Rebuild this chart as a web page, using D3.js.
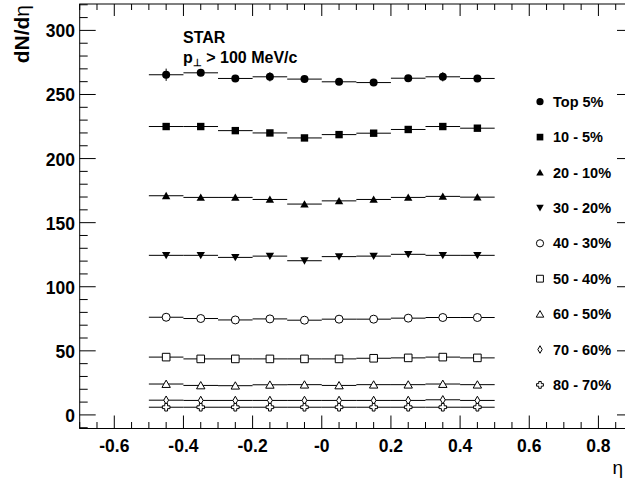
<!DOCTYPE html>
<html><head><meta charset="utf-8">
<script src="https://cdn.jsdelivr.net/npm/d3@7"></script>
<style>
html,body{margin:0;padding:0;background:#fff;}
svg{display:block;}
text{font-family:"Liberation Sans",Arial,Helvetica,sans-serif;font-weight:bold;fill:#000;}
</style></head>
<body>
<svg id="chart" width="625" height="483"></svg>
<script>
// ---------- data ----------
const eta = [-0.45, -0.35, -0.25, -0.15, -0.05, 0.05, 0.15, 0.25, 0.35, 0.45];
const binHalfWidth = 0.05;
const seriesNames = ["Top 5%", "10 - 5%", "20 - 10%", "30 - 20%", "40 - 30%", "50 - 40%", "60 - 50%", "70 - 60%", "80 - 70%"];
const top5   = [265.4, 266.9, 262.5, 263.8, 262.0, 259.9, 259.3, 262.7, 263.8, 262.5];
const c10_5  = [225.0, 225.0, 221.8, 220.0, 216.1, 218.7, 219.8, 222.7, 225.0, 223.7];
const c20_10 = [171.0, 169.7, 169.7, 168.1, 164.5, 167.0, 168.1, 169.7, 170.5, 169.9];
const c30_20 = [124.5, 124.5, 122.9, 123.9, 120.3, 123.5, 123.9, 125.3, 124.5, 124.5];
const c40_30 = [76.2, 75.2, 74.1, 74.9, 73.9, 74.7, 74.7, 75.5, 76.0, 76.0];
const c50_40 = [45.1, 43.7, 43.7, 43.7, 43.7, 43.7, 44.2, 44.5, 45.1, 44.5];
const c60_50 = [24.1, 23.0, 22.8, 23.5, 23.6, 23.0, 23.6, 23.6, 24.1, 23.6];
const c70_60 = [11.5, 11.3, 11.3, 11.3, 11.3, 11.3, 11.3, 11.3, 11.8, 11.3];
const c80_70 = [6.0, 6.0, 6.0, 6.0, 6.0, 6.0, 6.0, 6.0, 6.0, 6.0];
const top5Err = [4.8, 2.5, 2.0, 3.6, 2.0, 2.0, 2.0, 2.0, 3.6, 2.0];
const seriesValues = [top5, c10_5, c20_10, c30_20, c40_30, c50_40, c60_50, c70_60, c80_70];
const markerTypes = ["circle", "square", "triUp", "triDown", "oCircle", "oSquare", "oTriUp", "oDiamond", "oCross"];
const xTickValues = [-0.6, -0.4, -0.2, 0, 0.2, 0.4, 0.6, 0.8];
const xTickLabels = ["-0.6", "-0.4", "-0.2", "-0", "0.2", "0.4", "0.6", "0.8"];
const yTickValues = [0, 50, 100, 150, 200, 250, 300];
const yTickLabels = ["0", "50", "100", "150", "200", "250", "300"];

// ---------- layout ----------
const svg = d3.select("#chart");
const L = 79.7, R = 633, T = 4, B = 428.5;
const x = d3.scaleLinear().domain([-0.7, 0.9]).range([L, R]);
const y = d3.scaleLinear().domain([-10.6, 320.6]).range([B, T]);

// marker path generators (centered at 0,0)
function markerPath(type) {
  const p = d3.path();
  switch (type) {
    case "circle": case "oCircle": p.arc(0, 0, 4, 0, 2 * Math.PI); break;
    case "square": p.rect(-3.7, -3.7, 7.4, 7.4); break;
    case "oSquare": p.rect(-3.8, -3.8, 7.6, 7.6); break;
    case "triUp": case "oTriUp": p.moveTo(-4.2, 3.4); p.lineTo(4.2, 3.4); p.lineTo(0, -3.9); p.closePath(); break;
    case "triDown": p.moveTo(-4.2, -3.4); p.lineTo(4.2, -3.4); p.lineTo(0, 3.9); p.closePath(); break;
    case "oDiamond": p.moveTo(0, -4.2); p.lineTo(2.4, 0); p.lineTo(0, 4.2); p.lineTo(-2.4, 0); p.closePath(); break;
    case "oCross": {
      const a = 1.4, b = 3.8;
      p.moveTo(-a, -b); p.lineTo(a, -b); p.lineTo(a, -a); p.lineTo(b, -a); p.lineTo(b, a); p.lineTo(a, a);
      p.lineTo(a, b); p.lineTo(-a, b); p.lineTo(-a, a); p.lineTo(-b, a); p.lineTo(-b, -a); p.lineTo(-a, -a); p.closePath();
      break;
    }
  }
  return p.toString();
}
function isOpen(type) { return type.startsWith("o"); }

// ---------- frame & axes ----------
const axes = svg.append("g");
axes.append("rect").attr("x", L).attr("y", T).attr("width", R - L).attr("height", B - T)
  .attr("fill", "none").attr("stroke", "#000").attr("stroke-width", 1);

const xMinor = d3.range(-0.7, 0.9001, 0.05).map(v => +v.toFixed(3));
const yMinor = d3.range(-10, 320.001, 10);

// bottom & top ticks
xMinor.forEach(v => {
  const major = xTickValues.some(t => Math.abs(t - v) < 1e-6);
  const len = major ? 13 : 6.5;
  axes.append("line").attr("x1", x(v)).attr("x2", x(v)).attr("y1", B).attr("y2", B - len).attr("stroke", "#000");
  axes.append("line").attr("x1", x(v)).attr("x2", x(v)).attr("y1", T).attr("y2", T + (major ? 12 : 6)).attr("stroke", "#000");
});
// left & right ticks
yMinor.forEach(v => {
  const major = yTickValues.includes(v);
  const len = major ? 16 : 8;
  axes.append("line").attr("x1", L).attr("x2", L + len).attr("y1", y(v)).attr("y2", y(v)).attr("stroke", "#000");
  axes.append("line").attr("x1", R).attr("x2", R - len).attr("y1", y(v)).attr("y2", y(v)).attr("stroke", "#000");
});
// tick labels
xTickValues.forEach((v, i) => {
  axes.append("text").attr("x", x(v)).attr("y", 452).attr("text-anchor", "middle")
    .style("font-size", "17.5px").text(xTickLabels[i]);
});
yTickValues.forEach((v, i) => {
  axes.append("text").attr("x", 75).attr("y", y(v) + 7).attr("text-anchor", "end")
    .style("font-size", "17.5px").text(yTickLabels[i]);
});
// axis titles
const yt = axes.append("text").attr("transform", "translate(29,5) rotate(-90)")
  .attr("text-anchor", "end").style("font-size", "21px");
yt.append("tspan").text("dN/d");
yt.append("tspan").style("font-weight", "normal").text("η");
axes.append("text").attr("x", 623).attr("y", 474).attr("text-anchor", "end")
  .style("font-size", "19px").style("font-weight", "normal").text("η");

// annotation
svg.append("text").attr("x", 183).attr("y", 43).style("font-size", "16px").text("STAR");
const pt = svg.append("text").attr("x", 183).attr("y", 63).style("font-size", "16px");
pt.append("tspan").text("p");
pt.append("tspan").attr("dy", 3).style("font-size", "10px").text("⊥");
pt.append("tspan").attr("dy", -3).text(" > 100 MeV/c");

// ---------- data ----------
const plot = svg.append("g");
seriesValues.forEach((vals, si) => {
  const g = plot.append("g");
  const data = eta.map((e, i) => ({ e, v: vals[i], err: si === 0 ? top5Err[i] : 0 }));
  // horizontal bin segments
  g.selectAll("line.seg").data(data).enter().append("line")
    .attr("x1", d => x(d.e - binHalfWidth)).attr("x2", d => x(d.e + binHalfWidth))
    .attr("y1", d => y(d.v)).attr("y2", d => y(d.v))
    .attr("stroke", "#000").attr("stroke-width", 1);
  // vertical error bars
  g.selectAll("line.err").data(data.filter(d => d.err > 0)).enter().append("line")
    .attr("x1", d => x(d.e)).attr("x2", d => x(d.e))
    .attr("y1", d => y(d.v - d.err)).attr("y2", d => y(d.v + d.err))
    .attr("stroke", "#000").attr("stroke-width", 1);
  const type = markerTypes[si];
  g.selectAll("path").data(data).enter().append("path")
    .attr("d", markerPath(type))
    .attr("transform", d => `translate(${x(d.e)},${y(d.v)})`)
    .attr("fill", isOpen(type) ? "#fff" : "#000")
    .attr("stroke", "#000").attr("stroke-width", isOpen(type) ? 1 : 0);
});

// ---------- legend ----------
const legendY0 = 101.7, legendDy = 35.4;
const legend = svg.append("g");
seriesNames.forEach((name, i) => {
  const type = markerTypes[i];
  const cy = legendY0 + i * legendDy;
  legend.append("path").attr("d", markerPath(type)).attr("transform", `translate(540,${cy}) scale(0.9)`)
    .attr("fill", isOpen(type) ? "#fff" : "#000").attr("stroke", "#000").attr("stroke-width", isOpen(type) ? 1.1 : 0);
  legend.append("text").attr("x", 553).attr("y", cy + 5).style("font-size", "14.5px").text(name);
});
</script>
</body></html>
